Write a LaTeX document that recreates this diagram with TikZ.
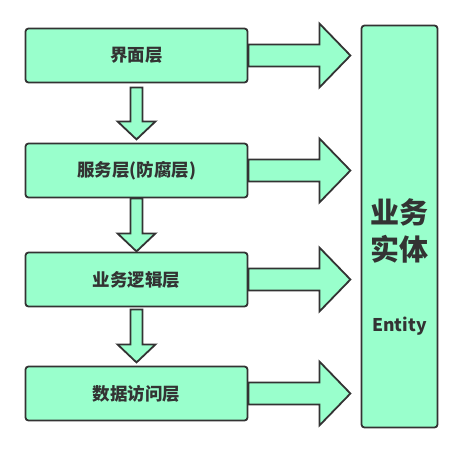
\documentclass[tikz,border=0pt]{standalone}
\usepackage{fontspec}
\setmainfont{Noto Sans CJK SC}
\usetikzlibrary{calc}
\definecolor{mint}{HTML}{99FFCC}
\definecolor{ink}{HTML}{333333}
\newcommand{\lowered}[1]{\raisebox{-2pt}{#1}}
\tikzset{
  layer/.style={draw=ink, fill=mint, line width=1.8pt, rounded corners=3pt,
    minimum width=222pt, minimum height=54pt, inner sep=0pt,
    font=\bfseries\fontsize{17.5}{20}\selectfont, text=ink},
  entitybox/.style={draw=ink, fill=mint, line width=1.8pt, rounded corners=3pt,
    minimum width=76pt, minimum height=402pt, inner sep=0pt},
  fatarrow/.style={draw=ink, fill=mint, line width=1.8pt, line join=miter},
}
\newcommand{\rightfat}[1]{%
  \draw[fatarrow] (#1.east) ++(0,-11) -- ++(71,0) -- ++(0,-21) -- ++(31,32)
    -- ++(-31,32) -- ++(0,-21) -- ++(-71,0) -- cycle;}
\newcommand{\downfat}[2]{% top point, total length
  \draw[fatarrow] (#1) ++(-6,0) -- ++(0,#2-18) -- ++(-13,0) -- ++(19,18)
    -- ++(19,-18) -- ++(-13,0) -- ++(0,-#2+18) -- cycle;}
\begin{document}
\begin{tikzpicture}[x=1pt,y=-1pt]
\useasboundingbox (0,0) rectangle (462,453);
\node[layer] (b1) at (136.5,55.5) {\lowered{界面层}};
\node[layer] (b2) at (136.5,170.5) {\lowered{服务层(防腐层)}};
\node[layer] (b3) at (136.5,279.5) {\lowered{业务逻辑层}};
\node[layer] (b4) at (136.5,393.5) {\lowered{数据访问层}};
\node[entitybox] (ent) at (399.5,226.5) {};
\node[text=ink, font=\bfseries\fontsize{29}{37}\selectfont, align=center] (entcn) at (399.5,231) {业务\\实体};
\node[text=ink, font=\bfseries\fontsize{17.5}{20}\selectfont] (enten) at (399.5,326.5) {Entity};
\rightfat{b1}
\rightfat{b2}
\rightfat{b3}
\rightfat{b4}
\coordinate (d1) at ($(b1.south)+(0,4)$);
\coordinate (d2) at ($(b2.south)+(0,0)$);
\coordinate (d3) at ($(b3.south)+(0,2)$);
\downfat{d1}{52}
\downfat{d2}{53}
\downfat{d3}{53}
\end{tikzpicture}
\end{document}
